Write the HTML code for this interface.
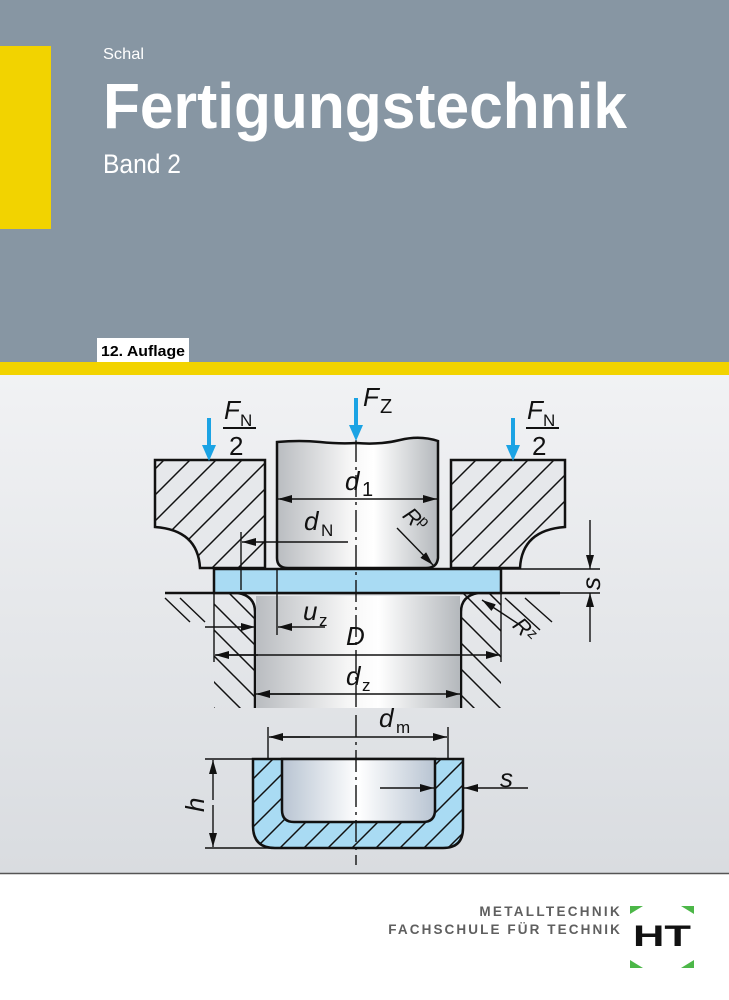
<!DOCTYPE html>
<html><head><meta charset="utf-8"><style>
html,body{margin:0;padding:0;width:729px;height:1000px;overflow:hidden;background:#fff}
svg{display:block}
text{font-family:"Liberation Sans",sans-serif}
</style></head><body>
<svg width="729" height="1000" viewBox="0 0 729 1000" xmlns="http://www.w3.org/2000/svg">
<defs>
<linearGradient id="bg" x1="0" y1="0" x2="0" y2="1">
<stop offset="0" stop-color="#f1f2f4"/><stop offset="1" stop-color="#d9dce0"/></linearGradient>
<linearGradient id="met" x1="0" y1="0" x2="1" y2="0">
<stop offset="0" stop-color="#b9bcc0"/><stop offset="0.45" stop-color="#f6f6f6"/><stop offset="0.6" stop-color="#ffffff"/><stop offset="1" stop-color="#b4b8bc"/></linearGradient>
<linearGradient id="cupin" x1="0" y1="0" x2="1" y2="0">
<stop offset="0" stop-color="#b8c4d2"/><stop offset="0.5" stop-color="#ffffff"/><stop offset="1" stop-color="#b8c4d2"/></linearGradient>
<pattern id="hatch" patternUnits="userSpaceOnUse" width="26" height="26">
<rect width="26" height="26" fill="#e6e8eb"/><path d="M0,26 L26,0 M-6,6 L6,-6 M20,32 L32,20" stroke="#111" stroke-width="1.5"/></pattern>
<pattern id="hatcht" patternUnits="userSpaceOnUse" width="26" height="26">
<path d="M0,0 L26,26 M-6,20 L6,32 M20,-6 L32,6" stroke="#111" stroke-width="1.5"/></pattern>
<pattern id="hatchb" patternUnits="userSpaceOnUse" width="24" height="24">
<rect width="24" height="24" fill="#a9dbf3"/><path d="M0,24 L24,0 M-6,6 L6,-6 M18,30 L30,18" stroke="#111" stroke-width="1.5"/></pattern>
<marker id="ar" markerWidth="14" markerHeight="8" refX="14" refY="4" orient="auto" markerUnits="userSpaceOnUse"><path d="M0,0 L14,4 L0,8 z" fill="#111"/></marker>
</defs>
<rect x="0" y="0" width="729" height="363" fill="#8796a3"/>
<rect x="0" y="46" width="51" height="183" fill="#f2d300"/>
<text x="103" y="59" font-size="16" fill="#fff" textLength="41" lengthAdjust="spacingAndGlyphs">Schal</text>
<text x="103" y="128" font-size="64" font-weight="bold" fill="#fff" textLength="524" lengthAdjust="spacingAndGlyphs">Fertigungstechnik</text>
<text x="103" y="173" font-size="27" fill="#fff" textLength="78" lengthAdjust="spacingAndGlyphs">Band 2</text>
<rect x="97" y="338" width="92" height="25" fill="#fff"/>
<text x="101" y="356" font-size="15" font-weight="bold" fill="#000" textLength="84" lengthAdjust="spacingAndGlyphs">12. Auflage</text>
<rect x="0" y="362" width="729" height="13" fill="#f2d300"/>
<rect x="0" y="375" width="729" height="498" fill="url(#bg)"/>
<line x1="0" y1="873.5" x2="729" y2="873.5" stroke="#555" stroke-width="1.5"/>

<g stroke="#111" stroke-width="2.5" fill="none">
<path d="M214,594 L255,594 L255,708 L214,708 Z" fill="url(#hatcht)" stroke="none"/>
<path d="M461,594 L501,594 L501,708 L461,708 Z" fill="url(#hatcht)" stroke="none"/>
<path d="M255,708 L255,612 Q255,596 238,593" />
<path d="M461,708 L461,612 Q461,596 478,593" />
<rect x="256" y="596" width="204" height="112" fill="url(#met)" stroke="none"/>
<line x1="165" y1="593" x2="560" y2="593"/>
<path d="M155,460 L265,460 L265,568 L200,568 Q198,530 155,527 Z" fill="url(#hatch)"/>
<path d="M451,460 L565,460 L565,527 Q522,530 520,568 L451,568 Z" fill="url(#hatch)"/>
<path d="M277,442 Q300,440 320,442 T356,443 Q380,445 400,440 T438,441 L438,558 Q437,568 426,568 L288,568 Q277,568 277,558 Z" fill="url(#met)"/>
<rect x="214" y="569" width="287" height="24" fill="#a9dbf3"/>
<path d="M253,759 L463,759 L463,828 Q463,848 443,848 L275,848 Q253,848 253,826 Z" fill="url(#hatchb)"/>
<path d="M282,759 L435,759 L435,810 Q435,822 423,822 L294,822 Q282,822 282,810 Z" fill="url(#cupin)"/>
</g>
<g stroke="#111" stroke-width="1.4" fill="none">
<line x1="356" y1="440" x2="356" y2="710" stroke-dasharray="22,5,3,5"/>
<line x1="356" y1="715" x2="356" y2="865" stroke-dasharray="22,5,3,5"/>
<line x1="280" y1="499" x2="437" y2="499" marker-end="url(#ar)"/>
<line x1="292" y1="499" x2="278" y2="499" marker-end="url(#ar)"/>
<line x1="348" y1="542" x2="242" y2="542" marker-end="url(#ar)"/>
<line x1="241" y1="532" x2="241" y2="590"/>
<line x1="397" y1="528" x2="433" y2="565" marker-end="url(#ar)"/>
<line x1="500" y1="569" x2="600" y2="569"/>
<line x1="470" y1="593" x2="600" y2="593"/>
<line x1="590" y1="520" x2="590" y2="569" marker-end="url(#ar)"/>
<line x1="590" y1="642" x2="590" y2="593" marker-end="url(#ar)"/>
<line x1="277" y1="568" x2="277" y2="635"/>
<line x1="205" y1="627" x2="255" y2="627" marker-end="url(#ar)"/>
<line x1="325" y1="627" x2="278" y2="627" marker-end="url(#ar)"/>
<line x1="214" y1="593" x2="214" y2="662"/>
<line x1="501" y1="593" x2="501" y2="662"/>
<line x1="258" y1="655" x2="215" y2="655" marker-end="url(#ar)"/>
<line x1="216" y1="655" x2="500" y2="655" marker-end="url(#ar)"/>
<line x1="300" y1="694" x2="256" y2="694" marker-end="url(#ar)"/>
<line x1="258" y1="694" x2="460" y2="694" marker-end="url(#ar)"/>
<line x1="520" y1="625" x2="482" y2="600" marker-end="url(#ar)"/>
<line x1="165" y1="598" x2="190" y2="622"/><line x1="180" y1="598" x2="205" y2="622"/>
<line x1="505" y1="598" x2="540" y2="630"/><line x1="525" y1="598" x2="552" y2="622"/>
<line x1="268" y1="727" x2="268" y2="758"/>
<line x1="448" y1="727" x2="448" y2="758"/>
<line x1="310" y1="737" x2="269" y2="737" marker-end="url(#ar)"/>
<line x1="271" y1="737" x2="447" y2="737" marker-end="url(#ar)"/>
<line x1="205" y1="759" x2="253" y2="759"/>
<line x1="205" y1="848" x2="270" y2="848"/>
<line x1="213" y1="800" x2="213" y2="760" marker-end="url(#ar)"/>
<line x1="213" y1="805" x2="213" y2="847" marker-end="url(#ar)"/>
<line x1="380" y1="788" x2="434" y2="788" marker-end="url(#ar)"/>
<line x1="528" y1="788" x2="464" y2="788" marker-end="url(#ar)"/>
</g>
<g stroke="#1ba3e4" stroke-width="4">
<line x1="209" y1="418" x2="209" y2="448"/>
<line x1="356" y1="398" x2="356" y2="428"/>
<line x1="513" y1="418" x2="513" y2="448"/>
</g>
<g fill="#1ba3e4">
<path d="M202,445 h14 l-7,16 z"/>
<path d="M349,425 h14 l-7,16 z"/>
<path d="M506,445 h14 l-7,16 z"/>
</g>
<g font-style="italic" font-size="26" fill="#111">
<text x="224" y="419">F</text><text x="240" y="426" font-size="17" font-style="normal">N</text>
<line x1="223" y1="428" x2="256" y2="428" stroke="#111" stroke-width="2"/>
<text x="229" y="455" font-style="normal">2</text>
<text x="527" y="419">F</text><text x="543" y="426" font-size="17" font-style="normal">N</text>
<line x1="526" y1="428" x2="559" y2="428" stroke="#111" stroke-width="2"/>
<text x="532" y="455" font-style="normal">2</text>
<text x="363" y="406">F</text><text x="380" y="413" font-size="20" font-style="normal">Z</text>
<text x="345" y="490">d</text><text x="362" y="496" font-size="20" font-style="normal">1</text>
<text x="304" y="530">d</text><text x="321" y="536" font-size="17" font-style="normal">N</text>
<text x="400" y="520" font-size="22" transform="rotate(45 405 520)">R</text><text x="417" y="524" font-size="15" font-style="normal" transform="rotate(45 420 524)">p</text>
<text x="600" y="590" transform="rotate(-90 600 590)">s</text>
<text x="303" y="620">u</text><text x="319" y="626" font-size="17" font-style="normal">z</text>
<text x="346" y="645">D</text>
<text x="346" y="685">d</text><text x="362" y="691" font-size="17" font-style="normal">z</text>
<text x="510" y="630" font-size="22" transform="rotate(45 515 630)">R</text><text x="526" y="636" font-size="15" font-style="normal" transform="rotate(45 528 636)">z</text>
<text x="379" y="727">d</text><text x="396" y="733" font-size="17" font-style="normal">m</text>
<text x="204" y="812" transform="rotate(-90 204 812)">h</text>
<text x="500" y="787">s</text>
</g>
<g font-weight="bold" font-size="13.5" fill="#5f5f5f">
<text x="622" y="916" text-anchor="end" letter-spacing="2.3">METALLTECHNIK</text>
<text x="622" y="934" text-anchor="end" letter-spacing="2.1">FACHSCHULE FÜR TECHNIK</text>
</g>
<g fill="#4cb748">
<path d="M630,906 h13 l-13,8 z"/><path d="M694,906 h-13 l13,8 z"/>
<path d="M630,968 h13 l-13,-8 z"/><path d="M694,968 h-13 l13,-8 z"/>
</g>
<text x="662" y="946" text-anchor="middle" font-size="30" font-weight="bold" fill="#111" textLength="58" lengthAdjust="spacingAndGlyphs">HT</text>
</svg>
</body></html>
